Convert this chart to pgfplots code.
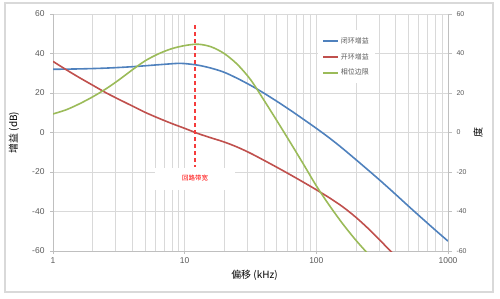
\documentclass[border=0pt]{standalone}
\usepackage{fontspec}
\setmainfont{Liberation Sans}
\newfontfamily\cjk{Noto Sans CJK SC}
\usepackage{pgfplots}
\pgfplotsset{compat=1.18}
\definecolor{cblue}{RGB}{79,129,189}
\definecolor{cred}{RGB}{192,80,77}
\definecolor{cgreen}{RGB}{155,187,89}
\definecolor{gridc}{RGB}{217,217,217}
\definecolor{axc}{RGB}{191,191,191}
\definecolor{tickc}{RGB}{89,89,89}
\definecolor{bwred}{RGB}{245,60,60}
\begin{document}
\begin{tikzpicture}[x=1bp,y=1bp]
\useasboundingbox (0,0) rectangle (500,298);
\draw[color=gridc, line width=1.2bp] (5,6) rectangle (493,295);
\begin{axis}[at={(53bp,47bp)}, anchor=south west, scale only axis,
  width=395bp, height=237bp,
  xmode=log, xmin=1, xmax=1000, ymin=-60, ymax=60,
  ytick={-60,-40,...,60},
  xtick={1,10,100,1000}, xticklabels={1,10,100,1000},
  axis x line*=bottom, axis y line*=left,
  axis line style={axc, line width=0.8bp, -},
  grid=both,
  major grid style={gridc, line width=0.8bp},
  minor grid style={gridc, line width=0.8bp},
  tick align=outside, major tick length=3bp, minor tick length=0pt,
  tick style={axc, line width=0.8bp},
  /pgf/number format/assume math mode=true,
  yticklabel style={font=\fontsize{8.5}{10}\selectfont, text=tickc, xshift=-2bp},
  xticklabel style={font=\fontsize{8.5}{10}\selectfont, text=tickc},
  ylabel={\cjk 增益 (dB)},
  ylabel style={font=\fontsize{6.5}{8}\selectfont, text=tickc},
  every axis y label/.style={at={(axis description cs:-0.099,0.5)}, rotate=90, anchor=center},
  xlabel={\cjk 偏移 (kHz)},
  xlabel style={font=\fontsize{6.5}{8}\selectfont, text=tickc},
  every axis x label/.style={at={(axis description cs:0.51,-0.101)}, anchor=center},
  legend style={at={(axis description cs:0.671,0.932)}, anchor=north west,
    draw=none, fill=white, font=\cjk\fontsize{7}{8}\selectfont, text=tickc,
    row sep=4.5bp, inner xsep=4bp, inner ysep=5bp, cells={anchor=west}},
  legend image code/.code={\draw[#1, line width=1.6bp] (0bp,0bp) -- (15bp,0bp);},
  clip=true,
]
% closed loop gain
\addplot[cblue, line width=1.6bp, smooth] coordinates {
 (1,32.0) (1.585,32.2) (2.512,32.6) (3.981,33.3) (6.310,34.3) (7.943,34.8) (8.913,35.0) (10,34.9)
 (12.59,34.1) (15.85,32.6) (19.95,30.5) (25.12,27.4) (31.62,23.9) (39.81,20.0) (50.12,15.8)
 (63.10,11.4) (79.43,6.8) (100,2.1) (125.9,-2.8) (158.5,-8.1) (199.5,-13.7) (251.2,-19.4)
 (316.2,-25.2) (398.1,-31.2) (501.2,-37.3) (631,-43.3) (794.3,-49.2) (1000,-55)};
\addlegendentry{闭环增益}
% open loop gain
\addplot[cred, line width=1.6bp, smooth] coordinates {
 (1,36) (1.259,31.8) (1.585,27.8) (1.995,24.0) (2.512,20.2) (3.162,16.8) (3.981,13.5) (5.012,10.2)
 (6.310,7.3) (7.943,4.6) (10,2.1) (12.59,-0.5) (15.85,-2.7) (19.95,-4.8) (25.12,-7.4) (31.62,-10.5)
 (39.81,-14.0) (50.12,-17.6) (63.10,-21.3) (79.43,-25.1) (100,-29.0) (125.9,-33.1) (158.5,-37.6)
 (199.5,-42.9) (251.2,-49.0) (316.2,-55.7) (398.1,-62.5)};
\addlegendentry{开环增益}
% phase margin
\addplot[cgreen, line width=1.6bp, smooth] coordinates {
 (1,9.4) (1.259,11.5) (1.585,14.5) (1.995,18.0) (2.512,22.0) (3.162,26.6) (3.981,31.6) (5.012,36.3)
 (6.310,39.8) (7.943,42.4) (10,44.0) (12.59,44.7) (15.85,43.4) (19.95,40.0) (25.12,34.5)
 (31.62,26.8) (39.81,16.6) (50.12,6.0) (63.10,-4.8) (79.43,-15.8) (100,-27.0) (125.9,-37.0)
 (158.5,-46.2) (199.5,-54.5) (251.2,-62.0)};
\addlegendentry{相位边限}
\addplot[bwred, line width=1.5bp, dash pattern=on 4bp off 3bp, forget plot] coordinates {(12,54.4) (12,-17.5)};
\node[fill=white, text=red, font=\cjk\fontsize{6.5}{8}\selectfont, minimum width=80bp, minimum height=22bp, inner sep=0pt]
  at (axis cs:12,-23.3) {回路带宽};
\end{axis}
\begin{axis}[at={(53bp,47bp)}, anchor=south west, scale only axis,
  width=395bp, height=237bp,
  xmode=log, xmin=1, xmax=1000, ymin=-60, ymax=60,
  ytick={-60,-40,...,60},
  axis x line=none, axis y line*=right,
  axis line style={axc, line width=0.8bp, -},
  tick align=outside, major tick length=4bp,
  tick style={axc, line width=0.8bp},
  /pgf/number format/assume math mode=true,
  yticklabel style={font=\fontsize{7}{8}\selectfont, text=tickc, xshift=1bp},
  ylabel={\cjk 度},
  ylabel style={font=\fontsize{6.5}{8}\selectfont, text=tickc},
  every axis y label/.style={at={(axis description cs:1.076,0.498)}, rotate=90, anchor=center},
]
\end{axis}
\end{tikzpicture}
\end{document}
